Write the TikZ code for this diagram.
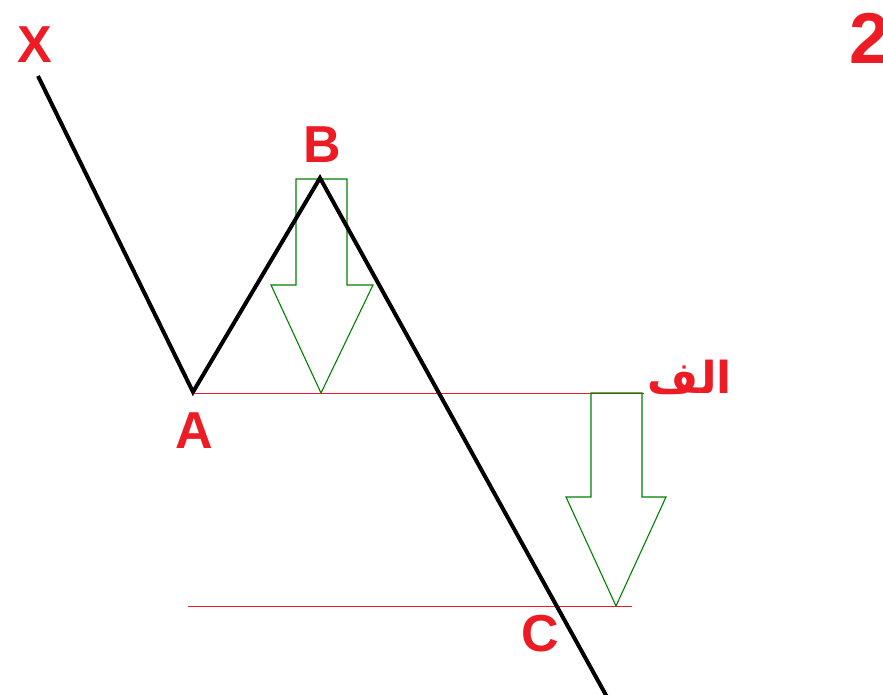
\documentclass[tikz,border=0pt]{standalone}
\usepackage{fontspec}
\setmainfont{Liberation Sans}
\newfontfamily\arabicfont[Script=Arabic]{DejaVu Sans}
\TeXXeTstate=1
\usetikzlibrary{positioning}
\definecolor{paintred}{RGB}{237,28,36}
\definecolor{paintgreen}{RGB}{0,128,0}

\begin{document}
\begin{tikzpicture}[x=1pt,y=-1pt,
  lbl/.style={text=paintred,font=\fontsize{52}{52}\selectfont\bfseries,inner sep=0pt,anchor=base},
  wave/.style={black,line width=4pt,line join=miter},
  level/.style={paintred,line width=1pt},
  push/.style={paintgreen,line width=1.1pt,line join=miter}]
\useasboundingbox (0,0) rectangle (883,694);
\coordinate (x0) at (38,76);
\coordinate (a0) at (193,392);
\coordinate (b0) at (320,178);
\coordinate (c0) at (607,697);
\coordinate (l1) at (644,393);
\coordinate (m0) at (188,606);
\coordinate (m1) at (632,606);
% levels
\draw[level] (a0 |- l1) -- (l1);
\draw[level] (m0) -- (m1);
% arrows
\draw[push] (296,179) -- (347,179) -- (347,285) -- (373,285) -- (321,393)
  -- (271,285) -- (296,285) -- cycle;
\draw[push] (591,393) -- (642,393) -- (642,497) -- (666,497) -- (616,606)
  -- (566,497) -- (591,497) -- cycle;
% price path
\draw[wave] (x0) -- (a0) -- (b0) -- (c0);
\node[lbl] (xl) at (35,62) {X};
\node[lbl] (bl) at (322,162) {B};
\node[lbl] (al) at (194,448) {A};
\node[lbl] (cl) at (540,651) {C};
\node[lbl,anchor=base west,font=\fontsize{72}{72}\selectfont\bfseries] (nr) at (849,63) {2};
\node[text=paintred,inner sep=0pt,anchor=base east,font=\fontsize{44}{44}\selectfont\bfseries] (al2) at (732,393) {\arabicfont\beginR الف\endR};
\end{tikzpicture}
\end{document}
